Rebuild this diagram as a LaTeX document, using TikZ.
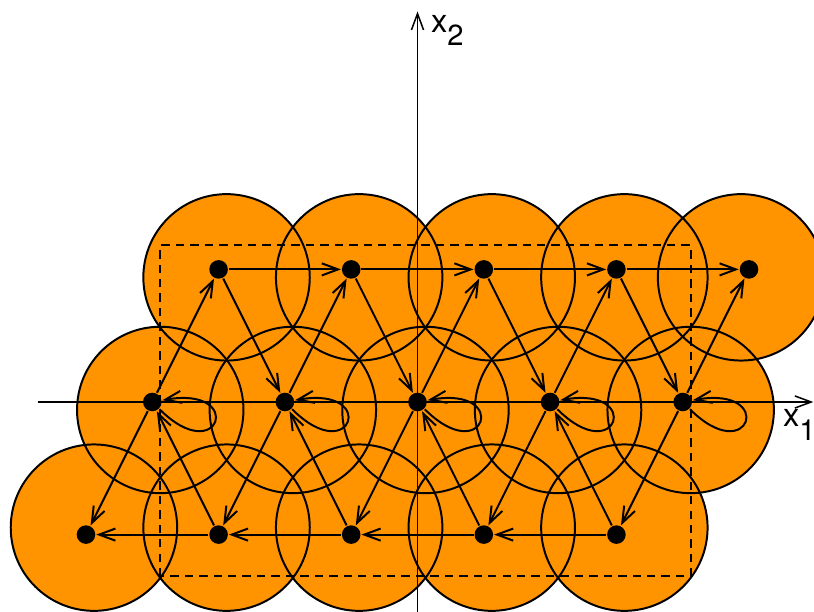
\documentclass[tikz,border=0pt]{standalone}
\usepackage{fontspec}
\newfontfamily\axfont{TeX Gyre Heros}
\usetikzlibrary{arrows.meta}
\definecolor{disk}{RGB}{255,147,0}

\begin{document}
\begin{tikzpicture}[line width=0.85pt,
        pt/.style={circle,fill=black,inner sep=0pt,minimum size=0.28cm},
        arr/.style={-{Straight Barb[length=7pt,width=5.2pt]}},
        lbl/.style={anchor=base west,inner sep=0pt,font=\axfont\fontsize{14}{16}\selectfont}]
        \useasboundingbox (-6.297,-3.167) rectangle (5.98,6.063);
        % disks, filled first, outlines on top
        \foreach \cx/\cy in {-2.88/1.88,-0.88/1.88,1.12/1.88,3.12/1.88,4.88/1.88,
                -3.88/-0.12,-1.88/-0.12,0.12/-0.12,2.12/-0.12,4.12/-0.12,
                -4.88/-1.895,-2.88/-1.895,-0.88/-1.895,1.12/-1.895,3.12/-1.895}
            \fill[disk] (\cx,\cy) circle (1.255);
        \foreach \cx/\cy in {-2.88/1.88,-0.88/1.88,1.12/1.88,3.12/1.88,4.88/1.88,
                -3.88/-0.12,-1.88/-0.12,0.12/-0.12,2.12/-0.12,4.12/-0.12,
                -4.88/-1.895,-2.88/-1.895,-0.88/-1.895,1.12/-1.895,3.12/-1.895}
            \draw (\cx,\cy) circle (1.255);
        \draw[dash pattern=on 3.6pt off 2.6pt] (-3.88,-2.63) rectangle (4.12,2.365);
        % axes
        \coordinate (xl) at (-5.73,0);
        \coordinate (xr) at (5.97,0);
        \coordinate (yb) at (0,-3.2);
        \coordinate (yt) at (0,5.89);
        \draw[arr,line width=0.65pt] (xl) -- (xr);
        \draw[arr,line width=0.65pt] (yb) -- (yt);
        \node[lbl] (x1) at (5.5,-0.37) {x\raisebox{-6pt}{\fontsize{12.5}{14}\selectfont 1}};
        \node[lbl] (x2) at (0.19,5.57) {x\raisebox{-5.5pt}{\fontsize{12.5}{14}\selectfont 2}};
        % lattice points
        \node[pt] (t1) at (-3,2) {};
        \node[pt] (t2) at (-1,2) {};
        \node[pt] (t3) at (1,2) {};
        \node[pt] (t4) at (3,2) {};
        \node[pt] (t5) at (5,2) {};
        \node[pt] (m1) at (-4,0) {};
        \node[pt] (m2) at (-2,0) {};
        \node[pt] (m3) at (0,0) {};
        \node[pt] (m4) at (2,0) {};
        \node[pt] (m5) at (4,0) {};
        \node[pt] (b1) at (-5,-2) {};
        \node[pt] (b2) at (-3,-2) {};
        \node[pt] (b3) at (-1,-2) {};
        \node[pt] (b4) at (1,-2) {};
        \node[pt] (b5) at (3,-2) {};
        % path
        \draw[arr] (t1) -- (t2);
        \draw[arr] (t2) -- (t3);
        \draw[arr] (t3) -- (t4);
        \draw[arr] (t4) -- (t5);
        \draw[arr] (m1) -- (t1);
        \draw[arr] (t1) -- (m2);
        \draw[arr] (m2) -- (t2);
        \draw[arr] (t2) -- (m3);
        \draw[arr] (m3) -- (t3);
        \draw[arr] (t3) -- (m4);
        \draw[arr] (m4) -- (t4);
        \draw[arr] (t4) -- (m5);
        \draw[arr] (m5) -- (t5);
        \draw[arr] (m1) -- (b1);
        \draw[arr] (b2) -- (m1);
        \draw[arr] (m2) -- (b2);
        \draw[arr] (b3) -- (m2);
        \draw[arr] (m3) -- (b3);
        \draw[arr] (b4) -- (m3);
        \draw[arr] (m4) -- (b4);
        \draw[arr] (b5) -- (m4);
        \draw[arr] (m5) -- (b5);
        \draw[arr] (b5) -- (b4);
        \draw[arr] (b4) -- (b3);
        \draw[arr] (b3) -- (b2);
        \draw[arr] (b2) -- (b1);
        \foreach \m in {m1,m2,m3,m4,m5}
            \draw[arr] (\m) to[out=-45,in=10,distance=1.28cm] (\m);
\end{tikzpicture}
\end{document}
